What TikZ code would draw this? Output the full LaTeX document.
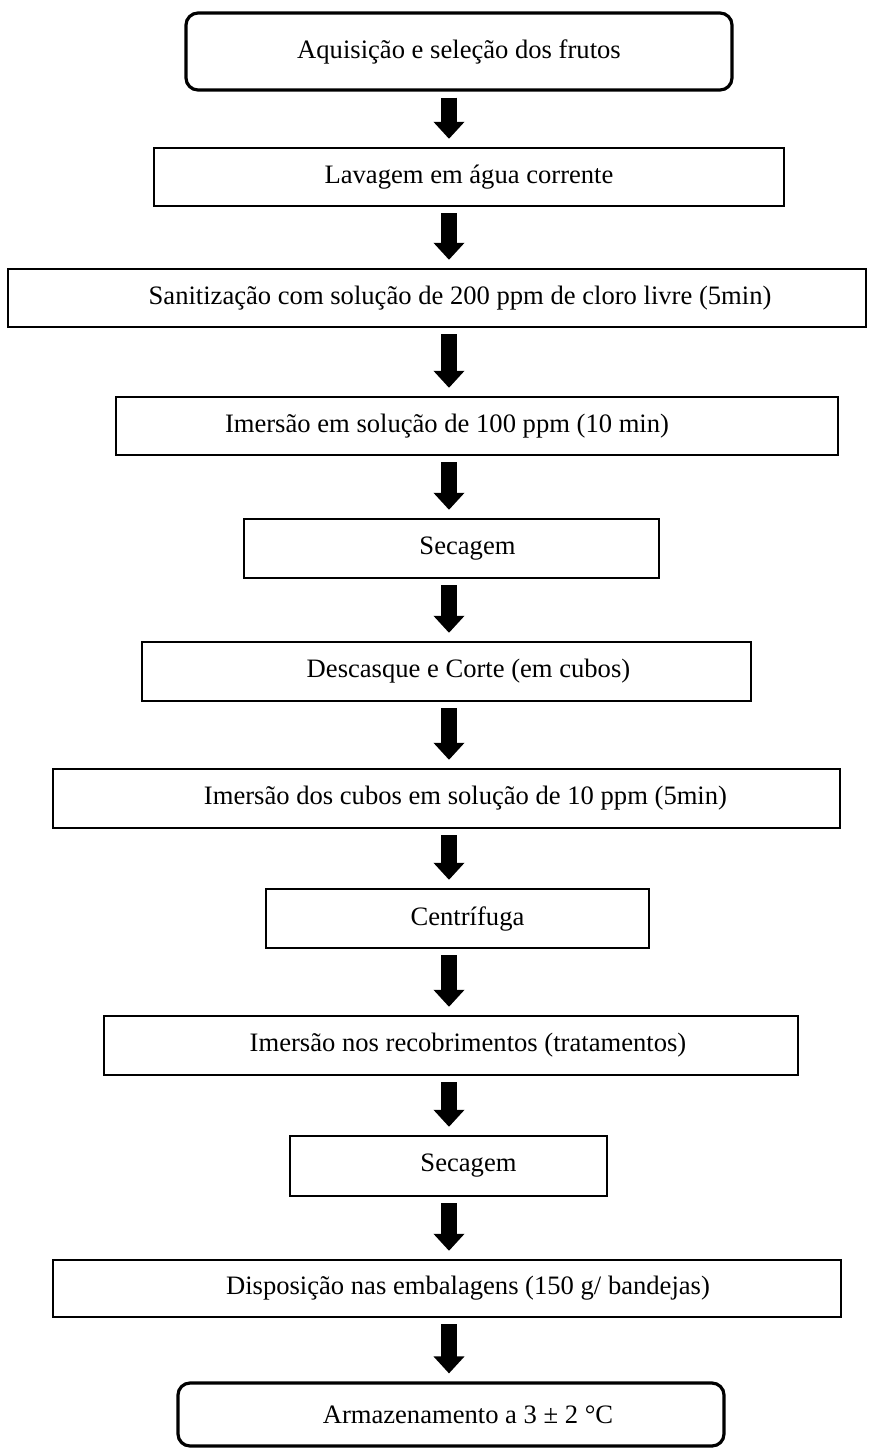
\documentclass[tikz,border=0pt]{standalone}
\usepackage{fontspec}
\setmainfont{Liberation Serif}
\usetikzlibrary{arrows.meta}
\tikzset{
  stepbox/.style={
    draw=black, line width=1.2pt, rectangle,
    minimum height=29pt, inner sep=2pt,
    font=\fontsize{13.3}{16}\selectfont,
  },
  endbox/.style={stepbox, line width=1.6pt, rounded corners=6pt},
  flow/.style={line width=8pt, -{Triangle[width=15pt, length=8.5pt]},
    shorten <=3pt, shorten >=4pt},
}
\newcommand{\tshift}[1]{\hspace*{#1pt}}

\begin{document}
\begin{tikzpicture}[x=0.5pt, y=-0.5pt]
\useasboundingbox (0,0) rectangle (873,1448);

\coordinate (ax) at (449,0);

\node[endbox, minimum width=273pt, minimum height=38.5pt] (acq) at (459,51.5) {Aquisição e seleção dos frutos};
\node[stepbox, minimum width=315pt] (lav) at (469,177) {Lavagem em água corrente};
\node[stepbox, minimum width=429pt] (san) at (437,298) {\tshift{23}Sanitização com solução de 200 ppm de cloro livre (5min)};
\node[stepbox, minimum width=361pt] (im1) at (477,426) {Imersão em solução de 100 ppm (10 min)\tshift{30}};
\node[stepbox, minimum width=207.5pt, minimum height=29.5pt] (sec1) at (451.5,548.5) {\tshift{16}Secagem};
\node[stepbox, minimum width=304.5pt, minimum height=29.5pt] (cor) at (446.5,671.5) {\tshift{22}Descasque e Corte (em cubos)};
\node[stepbox, minimum width=393.5pt, minimum height=29.5pt] (im2) at (446.5,798.5) {\tshift{19}Imersão dos cubos em solução de 10 ppm (5min)};
\node[stepbox, minimum width=191.5pt, minimum height=29.5pt] (cen) at (457.5,918.5) {\tshift{10}Centrífuga};
\node[stepbox, minimum width=347pt, minimum height=29.5pt] (rec) at (451,1045.5) {\tshift{17}Imersão nos recobrimentos (tratamentos)};
\node[stepbox, minimum width=158.5pt, minimum height=30pt] (sec2) at (448.5,1166) {\tshift{20}Secagem};
\node[stepbox, minimum width=394pt, minimum height=28.5pt] (emb) at (447,1288.5) {\tshift{21}Disposição nas embalagens (150 g/ bandejas)};
\node[endbox, minimum width=273pt, minimum height=31.5pt] (arm) at (451,1414.5) {\tshift{17}Armazenamento a 3 ± 2 °C};

% setas entre as etapas
\foreach \a/\b in {acq/lav, lav/san, san/im1, im1/sec1, sec1/cor, cor/im2,
                   im2/cen, cen/rec, rec/sec2, sec2/emb, emb/arm}
  \draw[flow] (\a.south -| ax) -- (\b.north -| ax);

\end{tikzpicture}
\end{document}
